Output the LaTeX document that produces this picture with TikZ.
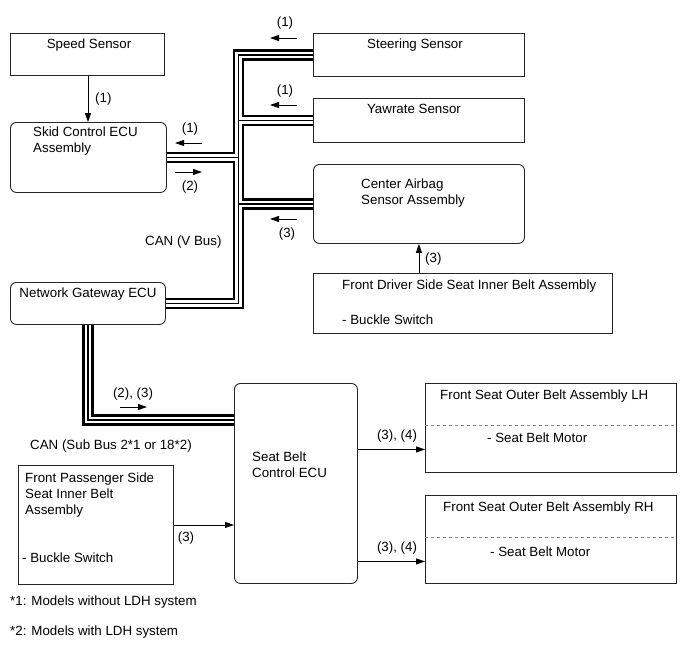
\documentclass[tikz,border=0pt]{standalone}
\usepackage{fontspec}
\setmainfont{Liberation Sans}
\usepackage{xcolor}
\usepackage{tikz}
\usetikzlibrary{arrows.meta}
\usetikzlibrary{backgrounds}
\usetikzlibrary{positioning}

\begin{document}
\begin{tikzpicture}[x=1pt, y=-1pt,
    box/.style={draw=black!85, line width=0.9pt, anchor=north west, inner sep=0pt},
    rbox/.style={box, rounded corners=6pt},
    txt/.style={font=\fontsize{13.33}{16}\selectfont, inner sep=0pt, text height=9.5pt, text depth=0pt},
    mtxt/.style={font=\fontsize{13.33}{16}\selectfont, inner sep=0pt, align=left, anchor=north west},
    conn/.style={line width=0.8pt, -{Triangle[length=9pt, width=6pt]}},
    flow/.style={line width=0.9pt, -{Triangle[length=9pt, width=6pt]}},
    sep/.style={draw=gray, line width=0.8pt, dash pattern=on 3pt off 3pt}]

    \useasboundingbox (0, 0) rectangle (689, 659);

    % units
    \node [box, minimum width=154pt, minimum height=42pt] (speed) at (10, 33) {};
    \node [rbox, minimum width=156pt, minimum height=70pt] (skid) at (10, 122) {};
    \node [box, minimum width=211pt, minimum height=43pt] (steer) at (313, 33) {};
    \node [box, minimum width=211pt, minimum height=44pt] (yaw) at (313, 98) {};
    \node [rbox, minimum width=211pt, minimum height=79pt] (airbag) at (313, 164) {};
    \node [rbox, minimum width=155pt, minimum height=42pt] (gw) at (10, 282) {};
    \node [box, minimum width=299pt, minimum height=60pt] (driver) at (313, 273) {};
    \node [rbox, minimum width=123pt, minimum height=200pt] (sbecu) at (234, 383) {};
    \node [box, minimum width=251pt, minimum height=89pt] (lh) at (425, 383) {};
    \node [box, minimum width=251pt, minimum height=88pt] (rh) at (425, 495) {};
    \node [box, minimum width=155pt, minimum height=119pt] (pass) at (18, 465) {};

    \draw [sep] ([yshift=-42pt]lh.north west) -- ([yshift=-42pt]lh.north east);
    \draw [sep] ([yshift=-42pt]rh.north west) -- ([yshift=-42pt]rh.north east);

    % texts
    \node [txt] (speedname) at (89, 44) {Speed Sensor};
    \node [txt] (steername) at (415, 44) {Steering Sensor};
    \node [txt] (yawname) at (414, 109) {Yawrate Sensor};
    \node [mtxt] (skidname) at (33, 127) {Skid Control ECU\\Assembly};
    \node [mtxt] (airbagname) at (361, 179) {Center Airbag\\Sensor Assembly};
    \node [txt] (gwname) at (88, 293) {Network Gateway ECU};
    \node [txt, anchor=west] (drivername) at (342, 285) {Front Driver Side Seat Inner Belt Assembly};
    \node [txt, anchor=west] (driversw) at (342, 320) {- Buckle Switch};
    \node [mtxt] (sbecuname) at (252, 452) {Seat Belt\\Control ECU};
    \node [txt, anchor=west] (lhname) at (440, 395) {Front Seat Outer Belt Assembly LH};
    \node [txt, anchor=west] (lhmotor) at (487, 438) {- Seat Belt Motor};
    \node [txt, anchor=west] (rhname) at (443, 507) {Front Seat Outer Belt Assembly RH};
    \node [txt, anchor=west] (rhmotor) at (490, 552) {- Seat Belt Motor};
    \node [mtxt] (passname) at (25, 473) {Front Passenger Side\\Seat Inner Belt\\Assembly};
    \node [txt, anchor=west] (passsw) at (22, 558) {- Buckle Switch};
    \node [txt, anchor=west] (vbus) at (145, 241) {CAN (V Bus)};
    \node [txt, anchor=west] (subbus) at (30, 445) {CAN (Sub Bus 2*1 or 18*2)};
    \node [txt, anchor=west] (note1) at (10, 601) {*1: Models without LDH system};
    \node [txt, anchor=west] (note2) at (10, 631) {*2: Models with LDH system};

    % CAN lines
    \coordinate (bx) at (238.5, 0);
    \coordinate (sbin) at ([yshift=-37pt]sbecu.north west);
    \begin{scope}[on background layer]
      \foreach \w/\c in {11.5/black, 6.5/white, 1.2/black} {
        \draw [line width=\w pt, draw=\c] (steer.west) -- (steer.west -| bx) -- (gw.east -| bx) -- (gw.east)
          (yaw.west) -- (yaw.west -| bx)
          (airbag.west) -- (airbag.west -| bx)
          (skid.east) -- (skid.east -| bx)
          (gw.south) |- (sbin);
      }
    \end{scope}

    % signals
    \draw [flow] (297, 38) -- (270, 38);
    \node [txt] (st1) at (285, 22) {(1)};
    \draw [flow] (297, 105) -- (270, 105);
    \node [txt] (yw1) at (285, 90) {(1)};
    \draw [flow] (202, 143) -- (175, 143);
    \node [txt] (sk1) at (190, 128) {(1)};
    \draw [flow] (175, 172) -- (202, 172);
    \node [txt] (sk2) at (190, 186) {(2)};
    \draw [flow] (297, 219) -- (270, 219);
    \node [txt] (ab3) at (287, 233) {(3)};
    \draw [flow] (120, 407) -- (147, 407);
    \node [txt] (sub23) at (133, 393) {(2), (3)};

    % connections
    \draw [conn] (speed.south -| 88, 0) -- (skid.north -| 88, 0);
    \node [txt, anchor=west] (sp1) at (95, 98) {(1)};
    \draw [conn] (driver.north -| airbag.south) -- (airbag.south);
    \node [txt, anchor=west] (dr3) at (425, 258) {(3)};
    \draw [conn] (pass.east) -- (pass.east -| sbecu.west);
    \node [txt] (ps3) at (186, 537) {(3)};
    \draw [conn] ([yshift=-21.5pt]lh.west -| sbecu.east) -- ([yshift=-21.5pt]lh.west);
    \node [txt] (lh34) at (397, 435) {(3), (4)};
    \draw [conn] ([yshift=-22pt]rh.west -| sbecu.east) -- ([yshift=-22pt]rh.west);
    \node [txt] (rh34) at (397, 547) {(3), (4)};

\end{tikzpicture}
\end{document}
